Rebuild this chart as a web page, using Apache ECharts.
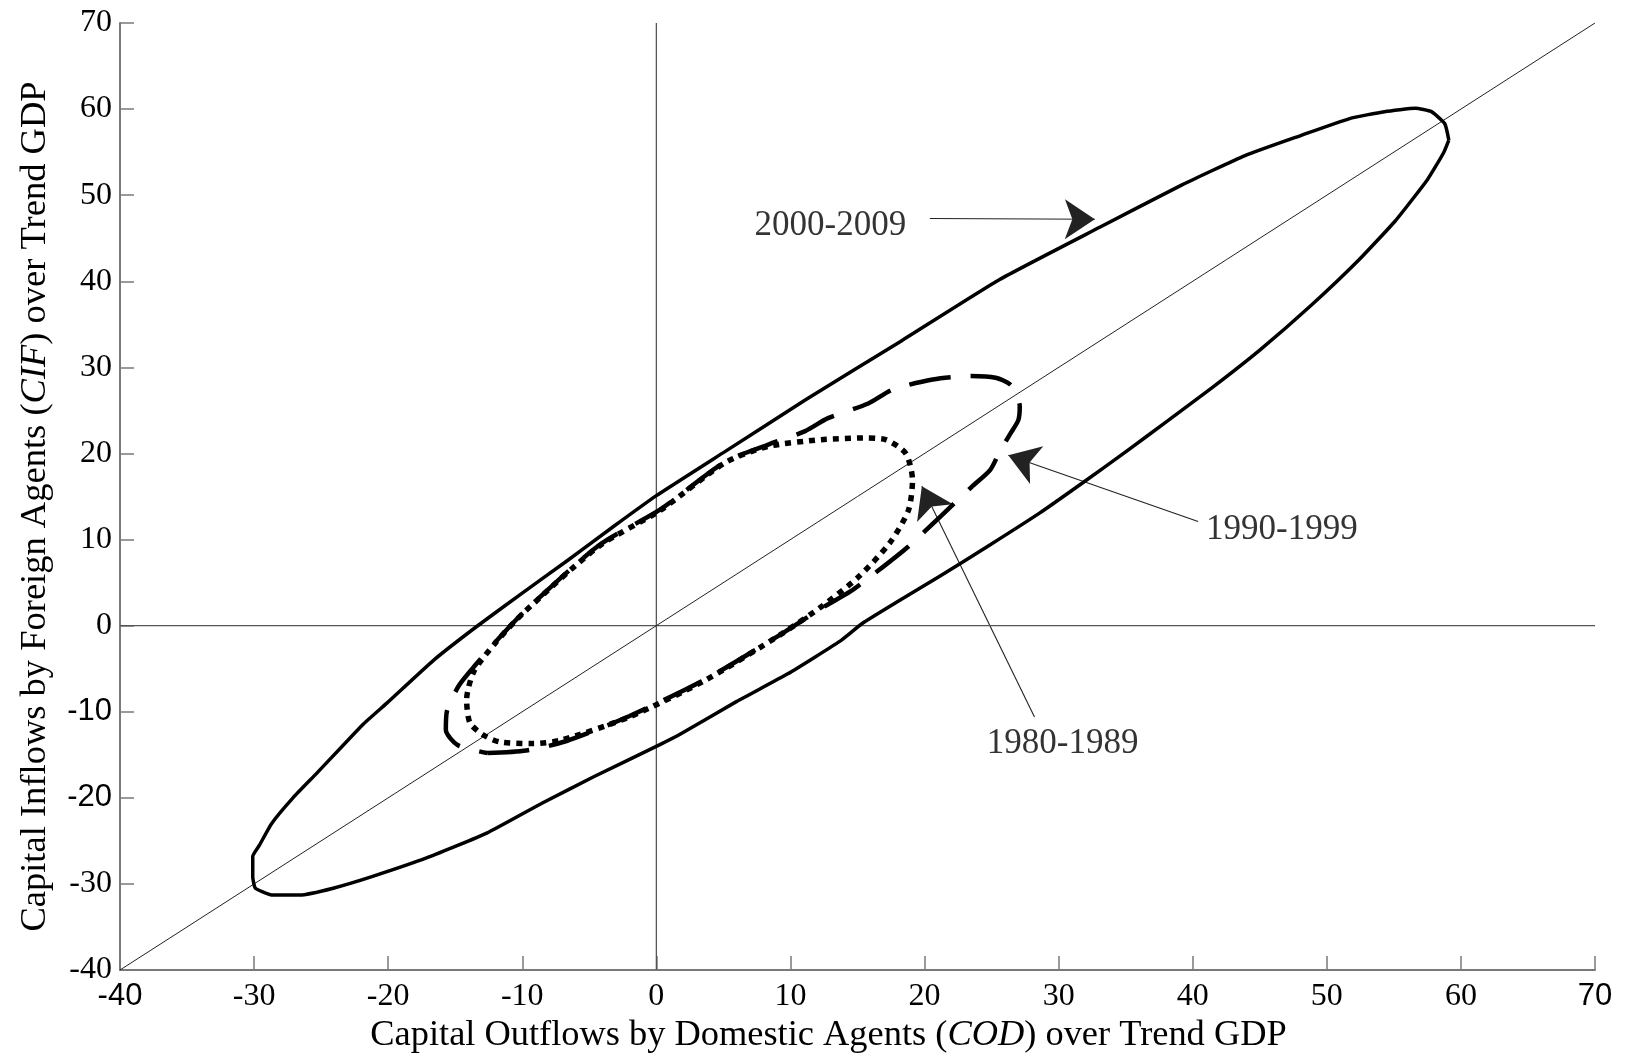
<!DOCTYPE html>
<html>
<head>
<meta charset="utf-8">
<script src="https://cdn.jsdelivr.net/npm/echarts@6/dist/echarts.min.js"></script>
<style>
html,body{margin:0;padding:0;background:#fff;}
#chart{width:1626px;height:1057px;}
</style>
</head>
<body>
<div id="chart"></div>
<script>
// ---- data ----
const xTicks = [-40, -30, -20, -10, 0, 10, 20, 30, 40, 50, 60, 70];
const yTicks = [-40, -30, -20, -10, 0, 10, 20, 30, 40, 50, 60, 70];
const xSansTicks = [-40, 70];
const ySansTicks = [-10, -20];

const seriesNames = ['2000-2009', '1990-1999', '1980-1989'];

const cloud2000 = [
  [59.1,56.4],[58.7,54.9],[57.5,51.8],[55.1,47.0],[52.4,42.5],[48.9,37.3],[45.0,32.0],[41.5,27.7],
  [38.05,23.7],[35.1,20.3],[31.8,16.6],[28.6,13.1],[24.9,9.4],[21.1,5.7],[18.0,2.8],[15.4,0.3],
  [13.7,-1.8],[9.8,-5.6],[6.0,-8.8],[1.8,-12.6],[0.3,-13.8],[-4.6,-17.5],[-8.5,-20.6],[-12.65,-24.1],
  [-17.0,-26.9],[-21.1,-29.1],[-24.1,-30.5],[-26.6,-31.3],[-28.6,-31.3],[-29.9,-30.5],[-30.1,-29.2],
  [-30.1,-26.8],[-29.6,-25.5],[-28.7,-23.0],[-27.1,-20.0],[-25.3,-17.1],[-21.9,-11.5],[-20.1,-9.0],
  [-16.6,-4.0],[-13.4,-0.1],[-9.9,3.9],[-6.6,7.6],[-3.3,11.4],[0.0,15.1],[5.2,20.3],[11.1,26.2],
  [18.3,33.1],[25.6,40.2],[33.1,46.3],[39.2,51.2],[43.9,54.6],[48.0,56.9],[51.7,58.9],[54.3,59.7],
  [56.6,60.1],[57.8,59.7],[58.8,58.3],[59.1,56.4]
];

const cloud1990 = [
  [-12.6,-14.8],[-9.7,-14.5],[-6.7,-13.4],[-2.0,-10.5],[3.7,-6.2],[9.4,-0.9],[12.3,2.0],[14.5,4.0],
  [16.3,6.1],[18.8,9.2],[21.2,12.7],[23.5,16.1],[24.9,18.1],[25.6,20.2],[26.4,22.3],[27.0,23.9],
  [27.1,25.5],[26.9,26.6],[26.4,28.0],[25.3,28.8],[23.4,29.0],[20.6,28.6],[17.6,27.4],[15.8,25.8],
  [12.8,24.1],[11.1,22.6],[8.3,21.0],[5.1,19.0],[0.3,13.5],[-4.3,9.3],[-10.0,1.4],[-12.0,-1.9],
  [-13.4,-4.4],[-14.7,-6.9],[-15.6,-9.8],[-15.7,-12.1],[-14.8,-13.9],[-12.6,-14.8]
];

const cloud1980 = [
  [15.4,21.8],[12.3,21.6],[8.3,20.8],[5.1,18.9],[0.3,13.4],[-4.3,9.2],[-10.0,1.35],[-12.0,-2.0],
  [-13.6,-5.3],[-14.15,-8.6],[-13.9,-11.3],[-12.9,-12.7],[-11.7,-13.5],[-9.2,-13.7],[-7.1,-13.3],
  [-2.0,-10.6],[3.7,-6.3],[9.4,-0.9],[12.3,2.2],[15.1,5.7],[17.4,9.6],[18.8,13.4],[19.1,16.9],
  [18.6,20.0],[17.1,21.6],[15.4,21.8]
];

const diagonal = [[-40,-40],[70,70]];
const zeroH = [[-40,0],[70,0]];
const zeroV = [[0,-40],[0,70]];

// annotation anchors (data coords) and arrows
const annText = ['2000-2009', '1990-1999', '1980-1989'];
const annAnchor = [[12.98,46.5],[46.65,11.1],[30.3,-13.7]];
const annArrows = [
  [[20.4,47.3],[32.7,47.2]],
  [[40.4,12.1],[26.25,19.8]],
  [[28.2,-10.6],[19.8,16.2]]
];

// ---- chart ----
const SERIF = '"Liberation Serif", "Times New Roman", serif';
const SANS = '"Liberation Sans", Arial, sans-serif';

function tickFmt(sansList){
  return function(v){
    return (sansList.indexOf(v) >= 0 ? '{s|' : '{r|') + v + '}';
  };
}

const chart = echarts.init(document.getElementById('chart'), null, {renderer:'canvas'});

const axisCommon = {
  type: 'value', min: -40, max: 70, interval: 10,
  axisLine: {show: true, onZero: false, lineStyle: {color: '#7a7a7a', width: 2}},
  axisTick: {show: true, inside: true, length: 14, lineStyle: {color: '#7a7a7a', width: 1.5}},
  splitLine: {show: false},
};

const labelRich = {
  r: {fontFamily: SERIF, fontSize: 32, color: '#000'},
  s: {fontFamily: SANS, fontSize: 31, color: '#000'}
};

chart.setOption({
  animation: false,
  backgroundColor: '#fff',
  grid: {left: 120, right: 31, top: 23, bottom: 87, containLabel: false, outerBoundsMode: 'none'},
  xAxis: Object.assign({}, axisCommon, {
    name: 'Capital Outflows by Domestic Agents ({it|COD}) over Trend GDP',
    nameLocation: 'middle', nameGap: 35,
    nameTextStyle: {fontFamily: SERIF, fontSize: 36.4, color: '#000', padding: [0, 58, 0, 0],
      rich: {it: {fontFamily: SERIF, fontSize: 36.4, fontStyle: 'italic', color: '#000'}}},
    axisLabel: {margin: 11, formatter: tickFmt(xSansTicks), customValues: xTicks, rich: labelRich}
  }),
  yAxis: Object.assign({}, axisCommon, {
    name: 'Capital Inflows by Foreign Agents ({it|CIF}) over Trend GDP',
    nameLocation: 'middle', nameGap: 66,
    nameTextStyle: {fontFamily: SERIF, fontSize: 36.5, color: '#000', padding: [0, 20, 0, 0],
      rich: {it: {fontFamily: SERIF, fontSize: 36.5, fontStyle: 'italic', color: '#000'}}},
    axisLabel: {margin: 8, formatter: tickFmt(ySansTicks), customValues: yTicks, rich: labelRich}
  }),
  series: [
    {type: 'line', data: zeroH, showSymbol: false, silent: true, lineStyle: {color: '#555', width: 1.3}},
    {type: 'line', data: zeroV, showSymbol: false, silent: true, lineStyle: {color: '#555', width: 1.3}},
    {type: 'line', data: diagonal, showSymbol: false, silent: true, lineStyle: {color: '#222', width: 1}},
    {name: seriesNames[0], type: 'line', data: cloud2000, showSymbol: false, silent: true, smooth: 0.15,
      lineStyle: {color: '#000', width: 3.5, join: 'round'}},
    {name: seriesNames[1], type: 'line', data: cloud1990, showSymbol: false, silent: true, smooth: 0.25,
      lineStyle: {color: '#000', width: 4.5, type: [42, 20], cap: 'butt'}},
    {name: seriesNames[2], type: 'line', data: cloud1980, showSymbol: false, silent: true, smooth: 0.25,
      lineStyle: {color: '#000', width: 5.5, type: [6, 6], cap: 'butt'}},
    {type: 'lines', coordinateSystem: 'cartesian2d', silent: true,
      symbol: ['none', 'arrow'], symbolSize: [18, 30],
      lineStyle: {color: '#222', width: 1.1, opacity: 1},
      itemStyle: {color: '#000'},
      data: annArrows.map(c => ({coords: c}))},
    {type: 'scatter', silent: true, symbolSize: 0,
      data: annAnchor.map((p, i) => ({value: p, name: annText[i]})),
      label: {show: true, position: 'inside', formatter: p => p.name,
        fontFamily: SERIF, fontSize: 35, color: '#000'}}
  ]
});
</script>
</body>
</html>
